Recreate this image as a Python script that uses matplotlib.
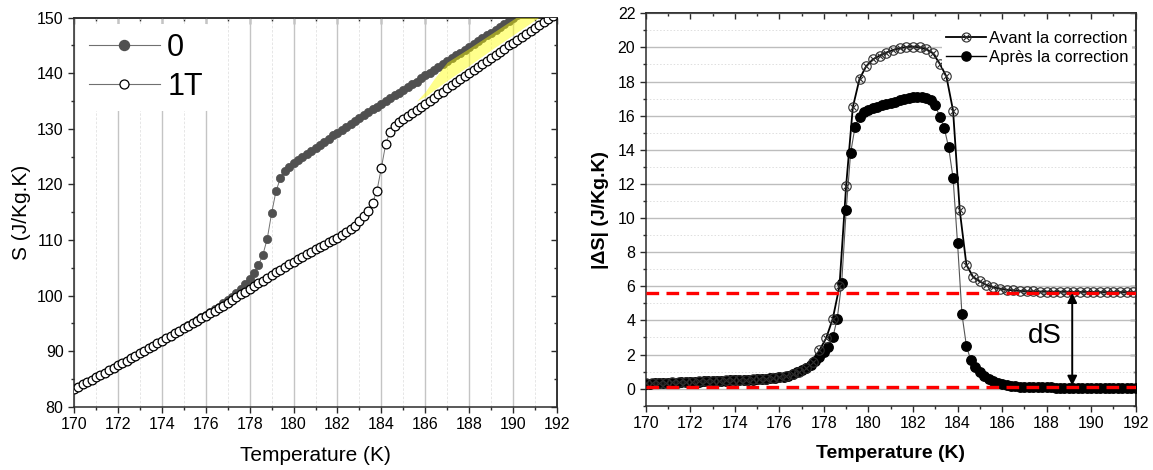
import matplotlib
matplotlib.use("Agg")
import matplotlib.pyplot as plt
from matplotlib.ticker import MultipleLocator
from matplotlib.lines import Line2D

plt.rcParams['font.family'] = ['Liberation Sans', 'DejaVu Sans']

# ---------------- datos: panel izquierdo (S vs T) ----------------
temp = [170.0, 170.2, 170.4, 170.6, 170.8, 171.0, 171.2, 171.4, 171.6, 171.8,
        172.0, 172.2, 172.4, 172.6, 172.8, 173.0, 173.2, 173.4, 173.6, 173.8,
        174.0, 174.2, 174.4, 174.6, 174.8, 175.0, 175.2, 175.4, 175.6, 175.8,
        176.0, 176.2, 176.4, 176.6, 176.8, 177.0, 177.2, 177.4, 177.6, 177.8,
        178.0, 178.2, 178.4, 178.6, 178.8, 179.0, 179.2, 179.4, 179.6, 179.8,
        180.0, 180.2, 180.4, 180.6, 180.8, 181.0, 181.2, 181.4, 181.6, 181.8,
        182.0, 182.2, 182.4, 182.6, 182.8, 183.0, 183.2, 183.4, 183.6, 183.8,
        184.0, 184.2, 184.4, 184.6, 184.8, 185.0, 185.2, 185.4, 185.6, 185.8,
        186.0, 186.2, 186.4, 186.6, 186.8, 187.0, 187.2, 187.4, 187.6, 187.8,
        188.0, 188.2, 188.4, 188.6, 188.8, 189.0, 189.2, 189.4, 189.6, 189.8,
        190.0, 190.2, 190.4, 190.6, 190.8, 191.0, 191.2, 191.4, 191.6, 191.8,
        192.0]

# champ 1T (cercles ouverts)
s_1T = [83.1, 83.5, 84.0, 84.4, 84.8, 85.3, 85.7, 86.1, 86.6, 87.0,
        87.5, 87.9, 88.3, 88.8, 89.2, 89.7, 90.1, 90.5, 91.0, 91.4,
        91.9, 92.3, 92.8, 93.2, 93.7, 94.1, 94.6, 95.0, 95.5, 95.9,
        96.4, 96.9, 97.3, 97.8, 98.2, 98.7, 99.2, 99.7, 100.2, 100.7,
        101.2, 101.7, 102.2, 102.7, 103.2, 103.7, 104.2, 104.6, 105.1, 105.6,
        106.1, 106.5, 107.0, 107.4, 107.9, 108.3, 108.7, 109.1, 109.6, 110.0,
        110.4, 110.9, 111.4, 112.0, 112.6, 113.4, 114.3, 115.3, 116.7, 118.9,
        123.0, 127.3, 129.5, 130.5, 131.2, 131.7, 132.3, 132.8, 133.4, 133.9,
        134.5, 135.0, 135.6, 136.2, 136.7, 137.3, 137.8, 138.4, 138.9, 139.5,
        140.0, 140.6, 141.1, 141.7, 142.2, 142.8, 143.3, 143.9, 144.4, 145.0,
        145.5, 146.0, 146.6, 147.1, 147.6, 148.2, 148.7, 149.2, 149.8, 150.3,
        150.8]

# champ 0 (cercles pleins), jusqu'a 190.2 K
s_0 = [83.1, 83.5, 84.0, 84.4, 84.8, 85.3, 85.7, 86.1, 86.6, 87.0,
       87.5, 87.9, 88.3, 88.8, 89.2, 89.7, 90.1, 90.5, 91.0, 91.4,
       91.9, 92.3, 92.8, 93.2, 93.7, 94.2, 94.7, 95.1, 95.6, 96.1,
       96.5, 97.0, 97.5, 98.0, 98.6, 99.2, 99.8, 100.5, 101.2, 102.0,
       102.9, 104.0, 105.5, 107.3, 110.2, 114.8, 118.8, 121.1, 122.4, 123.2,
       123.8, 124.4, 124.9, 125.5, 126.0, 126.6, 127.1, 127.7, 128.2, 128.8,
       129.3, 129.8, 130.4, 130.9, 131.4, 131.9, 132.5, 133.0, 133.5, 134.0,
       134.5, 135.0, 135.5, 136.0, 136.5, 137.0, 137.5, 138.0, 138.5, 139.1,
       139.6, 140.1, 140.6, 141.1, 141.6, 142.2, 142.7, 143.2, 143.7, 144.2,
       144.7, 145.3, 145.8, 146.3, 146.8, 147.3, 147.8, 148.4, 148.9, 149.4,
       149.9, 150.4]

# zone jaune entre les deux courbes
jaune_t = [185.6, 186.0, 186.4, 187.0, 188.0, 189.0, 190.0, 191.0, 192.0]
jaune_bas = [135.0, 135.8, 137.0, 138.7, 141.4, 144.2, 146.9, 149.6, 152.2]
jaune_haut = [135.0, 136.7, 139.0, 142.0, 144.5, 147.1, 149.7, 152.3, 154.9]

# ---------------- datos: panel derecho (|dS| vs T) ----------------
ds_apres = [0.30, 0.30, 0.31, 0.32, 0.33, 0.34, 0.35, 0.36, 0.37, 0.38,
            0.39, 0.40, 0.41, 0.42, 0.43, 0.44, 0.45, 0.46, 0.47, 0.48,
            0.49, 0.50, 0.51, 0.52, 0.53, 0.55, 0.56, 0.58, 0.60, 0.62,
            0.66, 0.70, 0.76, 0.85, 0.95, 1.08, 1.22, 1.40, 1.62, 1.88,
            2.15, 2.45, 3.00, 4.10, 6.20, 10.45, 13.80, 15.35, 15.95, 16.20,
            16.35, 16.45, 16.52, 16.60, 16.67, 16.74, 16.82, 16.90, 16.97, 17.03,
            17.08, 17.11, 17.12, 17.06, 16.92, 16.60, 15.95, 15.30, 14.15, 12.35,
            8.55, 4.35, 2.50, 1.65, 1.25, 0.95, 0.72, 0.55, 0.42, 0.33,
            0.26, 0.21, 0.17, 0.14, 0.12, 0.10, 0.09, 0.08, 0.08, 0.07,
            0.07, 0.07, 0.06, 0.06, 0.06, 0.06, 0.06, 0.06, 0.05, 0.05,
            0.05, 0.05, 0.05, 0.05, 0.05, 0.05, 0.05, 0.05, 0.05, 0.05,
            0.05]

temp_avant = [170.0, 170.3, 170.6, 170.9, 171.2, 171.5, 171.8, 172.1, 172.4, 172.7,
              173.0, 173.3, 173.6, 173.9, 174.2, 174.5, 174.8, 175.1, 175.4, 175.7,
              176.0, 176.3, 176.6, 176.9, 177.2, 177.5, 177.8, 178.1, 178.4, 178.7,
              179.0, 179.3, 179.6, 179.9, 180.2, 180.5, 180.8, 181.1, 181.4, 181.7,
              182.0, 182.3, 182.6, 182.9, 183.2, 183.5, 183.8, 184.1, 184.4, 184.7,
              185.0, 185.3, 185.6, 185.9, 186.2, 186.5, 186.8, 187.1, 187.4, 187.7,
              188.0, 188.3, 188.6, 188.9, 189.2, 189.5, 189.8, 190.1, 190.4, 190.7,
              191.0, 191.3, 191.6, 191.9]
ds_avant = [0.33, 0.34, 0.35, 0.36, 0.37, 0.38, 0.40, 0.41, 0.42, 0.44,
            0.45, 0.46, 0.48, 0.49, 0.51, 0.52, 0.54, 0.56, 0.59, 0.62,
            0.67, 0.74, 0.85, 1.00, 1.22, 1.55, 2.25, 2.95, 4.10, 6.00,
            11.90, 16.50, 18.15, 18.90, 19.30, 19.52, 19.70, 19.85, 19.95, 20.02,
            20.05, 20.00, 19.90, 19.65, 19.05, 18.30, 16.30, 10.45, 7.25, 6.55,
            6.28, 6.08, 5.95, 5.86, 5.80, 5.76, 5.73, 5.71, 5.70, 5.69,
            5.69, 5.68, 5.68, 5.68, 5.67, 5.67, 5.67, 5.67, 5.66, 5.66,
            5.66, 5.66, 5.66, 5.66]

niveau_haut = 5.6
niveau_bas = 0.08
fleche_t = 189.15

fig = plt.figure(figsize=(11.53, 4.70), dpi=100)
ax1 = fig.add_axes([0.0642, 0.1347, 0.4189, 0.8277])
ax2 = fig.add_axes([0.5600, 0.1368, 0.4250, 0.8349])

spine_col = '#2b2b2b'


def style_axes(ax, xmaj, xmin, ymaj, ymin):
    for s in ax.spines.values():
        s.set_color(spine_col)
        s.set_linewidth(1.1)
    ax.xaxis.set_major_locator(MultipleLocator(xmaj))
    ax.xaxis.set_minor_locator(MultipleLocator(xmin))
    ax.yaxis.set_major_locator(MultipleLocator(ymaj))
    ax.yaxis.set_minor_locator(MultipleLocator(ymin))
    ax.tick_params(which='both', direction='out', color=spine_col, width=1.0,
                   labelsize=11.5, top=False, right=False)
    ax.tick_params(which='major', length=4.5, pad=3)
    ax.tick_params(which='minor', length=2.5)
    # ticks hacia adentro arriba y a la derecha
    top = ax.secondary_xaxis('top')
    top.xaxis.set_major_locator(MultipleLocator(xmaj))
    top.xaxis.set_minor_locator(MultipleLocator(xmin))
    top.tick_params(which='both', direction='in', labeltop=False, color=spine_col, width=1.0)
    top.tick_params(which='major', length=4.5)
    top.tick_params(which='minor', length=2.5)
    top.spines['top'].set_color(spine_col)
    top.spines['top'].set_linewidth(1.1)
    rgt = ax.secondary_yaxis('right')
    rgt.yaxis.set_major_locator(MultipleLocator(ymaj))
    rgt.yaxis.set_minor_locator(MultipleLocator(ymin))
    rgt.tick_params(which='both', direction='in', labelright=False, color=spine_col, width=1.0)
    rgt.tick_params(which='major', length=4.5)
    rgt.tick_params(which='minor', length=2.5)
    rgt.spines['right'].set_color(spine_col)
    rgt.spines['right'].set_linewidth(1.1)


# ---------------- panel izquierdo ----------------
ax1.set_xlim(170, 192)
ax1.set_ylim(80, 150)
style_axes(ax1, 2, 1, 10, 5)
ax1.grid(True, axis='x', which='major', color='#c4c4c4', lw=1.0)
ax1.grid(True, axis='x', which='minor', color='#e2e2e2', lw=0.6, ls=(0, (3, 2)))
ax1.set_axisbelow(True)

ax1.plot(temp[:len(s_0)], s_0, '-', color='#707070', lw=0.7, marker='o', ms=6.0,
         mfc='#505050', mec='#505050', mew=0.5, zorder=2)
ax1.fill_between(jaune_t, jaune_bas, jaune_haut, color='#ffff00', alpha=0.45, lw=0, zorder=3)
ax1.plot(temp, s_1T, '-', color='#707070', lw=0.7, marker='o', ms=6.3,
         mfc='white', mec='black', mew=0.9, zorder=4)

h0 = Line2D([], [], color='#707070', lw=0.8, marker='o', ms=7.2, mfc='#505050', mec='#505050')
h1 = Line2D([], [], color='#707070', lw=0.8, marker='o', ms=6.5, mfc='white', mec='black', mew=0.9)
leg1 = ax1.legend([h0, h1], ['0', '1T'], loc='upper left', fontsize=22, frameon=True,
                  handlelength=2.3, handletextpad=0.25, labelspacing=0.3,
                  borderaxespad=0.2, borderpad=0.3)
leg1.get_frame().set_edgecolor('none')
leg1.get_frame().set_facecolor('white')
leg1.get_frame().set_alpha(1)
leg1.set_zorder(10)

ax1.set_xlabel('Temperature (K)', fontsize=15, labelpad=10)
ax1.set_ylabel('S (J/Kg.K)', fontsize=15, labelpad=4)

# ---------------- panel derecho ----------------
ax2.set_xlim(170, 192)
ax2.set_ylim(-1, 22)
style_axes(ax2, 2, 1, 2, 1)
ax2.grid(True, axis='y', which='major', color='#bdbdbd', lw=1.0)
ax2.grid(True, axis='y', which='minor', color='#dedede', lw=0.7, ls=(0, (1.5, 2)))
ax2.set_axisbelow(True)

ax2.axhline(niveau_haut, color='#ff0000', lw=2.4, ls=(0, (3.8, 2.2)), zorder=5)
ax2.axhline(niveau_bas, color='#ff0000', lw=2.4, ls=(0, (3.8, 2.2)), zorder=5)

ax2.plot(temp, ds_apres, '-', color='#555555', lw=0.8, marker='o', ms=6.8,
         mfc='black', mec='black', zorder=3)
ax2.plot(temp_avant, ds_avant, '-', color='black', lw=1.3, zorder=4)
ax2.plot(temp_avant, ds_avant, 'o', ms=6.8, mfc='none', mec='#2e2e2e', mew=0.8, zorder=4)
ax2.plot(temp_avant, ds_avant, 'x', ms=4.8, mec='#2e2e2e', mew=0.8, zorder=4)

ax2.annotate('', xy=(fleche_t, niveau_bas + 0.1), xytext=(fleche_t, niveau_haut),
             arrowprops=dict(arrowstyle='<|-|>', color='black', lw=1.4,
                             mutation_scale=14, shrinkA=0, shrinkB=0), zorder=6)
ax2.text(187.93, 3.1, 'dS', fontsize=20, ha='center', va='center')

ha_line = Line2D([], [], color='black', lw=1.3)
ha_o = Line2D([], [], ls='none', marker='o', ms=6.5, mfc='none', mec='#2e2e2e', mew=0.8)
ha_x = Line2D([], [], ls='none', marker='x', ms=4.6, mec='#2e2e2e', mew=0.8)
hb = Line2D([], [], color='black', lw=1.0, marker='o', ms=6.6, mfc='black', mec='black')
leg2 = ax2.legend([(ha_line, ha_o, ha_x), hb], ['Avant la correction', 'Après la correction'],
                  loc='upper right', bbox_to_anchor=(1.0, 0.975), fontsize=12, frameon=True,
                  handlelength=2.4, handletextpad=0.15, labelspacing=0.25,
                  borderaxespad=0.2, borderpad=0.25)
leg2.get_frame().set_edgecolor('none')
leg2.get_frame().set_facecolor('white')
leg2.get_frame().set_alpha(1)
leg2.set_zorder(10)

ax2.set_xlabel('Temperature (K)', fontsize=14, fontweight='bold', labelpad=10)
ax2.set_ylabel('|ΔS| (J/Kg.K)', fontsize=14, fontweight='bold', labelpad=6)

fig.savefig('out.png', dpi=100)
